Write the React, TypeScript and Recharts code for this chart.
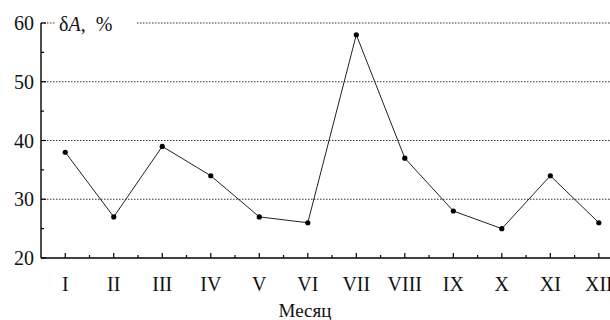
import React from 'react';
import { LineChart, Line, XAxis, YAxis, ReferenceLine } from 'recharts';

const months = ['I', 'II', 'III', 'IV', 'V', 'VI', 'VII', 'VIII', 'IX', 'X', 'XI', 'XII'];
const deltaA = [38, 27, 39, 34, 27, 26, 58, 37, 28, 25, 34, 26];
const yTicks = [20, 25, 30, 35, 40, 45, 50, 55, 60];
const gridValues = [30, 40, 50, 60];

const data = months.map((name, i) => ({ m: i + 1, name, value: deltaA[i] }));
// major ticks on every month, minor ticks halfway between
const xTicks = months.flatMap((_, i) => (i < months.length - 1 ? [i + 1, i + 1.5] : [i + 1]));

const FONT = "'Liberation Serif', 'Times New Roman', 'DejaVu Serif', serif";
const textStyle = { fontFamily: FONT, fontSize: 20, fill: '#111' };

// ticks point inward, into the plot
const XTick = (props: any) => {
  const { x, y, payload } = props;
  const v = payload.value as number;
  const major = Number.isInteger(v);
  return (
    <g>
      <line x1={x} x2={x} y1={y} y2={y - (major ? 5 : 3)} stroke="#000" strokeWidth={1.2} />
      {major && (
        <text x={x} y={y + 33} textAnchor="middle" style={textStyle}>
          {months[v - 1]}
        </text>
      )}
    </g>
  );
};

const YTick = (props: any) => {
  const { x, y, payload } = props;
  const v = payload.value as number;
  const major = v % 10 === 0;
  return (
    <g>
      <line x1={x} x2={x + (major ? 5 : 3)} y1={y} y2={y} stroke="#000" strokeWidth={1.2} />
      {major && (
        <text x={x - 7} y={y + 7} textAnchor="end" style={textStyle}>
          {v}
        </text>
      )}
    </g>
  );
};

const AxisTitle = ({ viewBox }: any) => (
  <g>
    <rect x={viewBox.x + 15} y={viewBox.y - 12} width={80} height={24} fill="#fff" />
    <text x={viewBox.x + 18} y={viewBox.y + 8} style={textStyle}>
      δ<tspan style={{ fontStyle: 'italic' }}>A</tspan>,<tspan dx={10}>%</tspan>
    </text>
  </g>
);

export default function App() {
  return (
    <div style={{ position: 'absolute', left: 0, top: 0, background: '#fff', fontFamily: FONT }}>
      <LineChart width={610} height={320} data={data} margin={{ top: 23, right: 0, bottom: 0, left: 0 }}>
        {gridValues.map((g) => (
          <ReferenceLine
            key={g}
            y={g}
            stroke="#333"
            strokeWidth={1}
            strokeDasharray="1.5 1.5"
            label={g === 60 ? AxisTitle : undefined}
          />
        ))}
        <XAxis
          dataKey="m"
          type="number"
          domain={[0.5, 12.23]}
          allowDataOverflow
          ticks={xTicks}
          interval={0}
          tickSize={0}
          tickMargin={0}
          tick={XTick}
          tickLine={false}
          axisLine={{ stroke: '#000', strokeWidth: 1.4 }}
          height={62}
          label={({ viewBox }: any) => (
            <text x={305} y={viewBox.y + 59} textAnchor="middle" style={{ ...textStyle, fontSize: 19 }}>
              Месяц
            </text>
          )}
        />
        <YAxis
          type="number"
          domain={[20, 60]}
          ticks={yTicks}
          interval={0}
          width={41}
          tickSize={0}
          tickMargin={0}
          tick={YTick}
          tickLine={false}
          axisLine={{ stroke: '#000', strokeWidth: 1.4 }}
        />
        <Line
          dataKey="value"
          type="linear"
          stroke="#222"
          strokeWidth={1}
          dot={{ r: 2.6, fill: '#000', stroke: '#000', strokeWidth: 0 }}
          activeDot={false}
          isAnimationActive={false}
        />
      </LineChart>
    </div>
  );
}
